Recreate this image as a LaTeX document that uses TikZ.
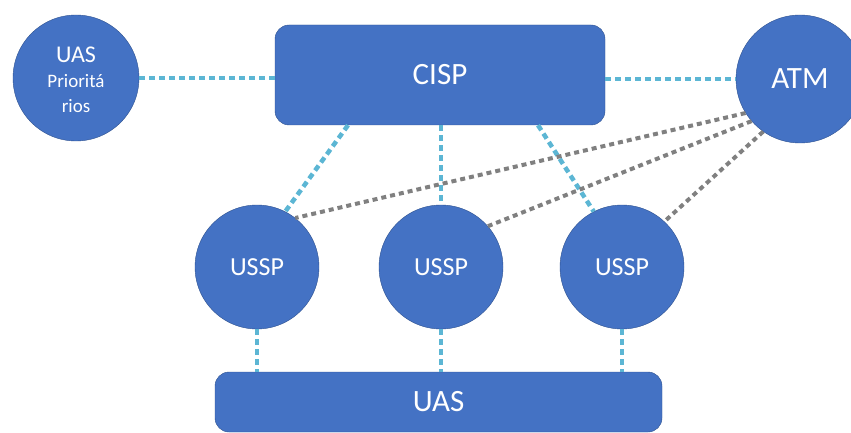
\documentclass[tikz,border=0pt]{standalone}
\usepackage{fontspec}
\setmainfont{Carlito}
\definecolor{boxblue}{RGB}{68,114,196}
\definecolor{boxedge}{RGB}{47,82,143}
\definecolor{linkcyan}{RGB}{92,182,212}
\definecolor{linkgray}{RGB}{128,128,128}
\tikzset{
  disc/.style={circle, fill=boxblue, draw=boxedge, thin, minimum size=124pt,
    inner sep=0pt, text=white, align=center},
  panel/.style={rectangle, rounded corners=14pt, fill=boxblue, draw=boxedge,
    thin, text=white},
  cyanlink/.style={linkcyan, line width=4.5pt, dash pattern=on 6pt off 4pt},
  graylink/.style={linkgray, line width=4pt, dash pattern=on 5pt off 4pt}
}
\begin{document}
\begin{tikzpicture}[x=1pt,y=-1pt]
  \useasboundingbox (0,0) rectangle (851,433);

  % nodes
  \node[disc, minimum size=126pt, font=\fontsize{19}{25}\selectfont] (prio) at (76,78)
    {\\[-6pt]{\fontsize{24}{25}\selectfont UAS}\\Prioritá\\rios};
  \node[panel, minimum width=330pt, minimum height=100pt,
    font=\fontsize{31}{32}\selectfont] (cisp) at (440,75) {CISP};
  \node[disc, minimum size=128pt, font=\fontsize{31}{32}\selectfont] (atm) at (800,79) {ATM};
  \node[disc, font=\fontsize{26}{27}\selectfont] (ussp1) at (257,267) {USSP};
  \node[disc, font=\fontsize{26}{27}\selectfont] (ussp2) at (441,267) {USSP};
  \node[disc, font=\fontsize{26}{27}\selectfont] (ussp3) at (622,267) {USSP};
  \node[panel, minimum width=447pt, minimum height=60pt,
    font=\fontsize{31}{32}\selectfont] (uas) at (438.5,402) {UAS};

  % links to CISP
  \draw[cyanlink] (prio) -- (prio -| cisp.west);
  \draw[cyanlink] (cisp.east |- atm) -- (atm);
  \draw[cyanlink] ([xshift=-92pt]cisp.south) -- (ussp1.63);
  \draw[cyanlink] (cisp.south -| ussp2) -- (ussp2);
  \draw[cyanlink] ([xshift=98pt]cisp.south) -- (ussp3.117);

  % links to ATM
  \draw[graylink] (atm.212) -- (ussp1.52);
  \draw[graylink] (atm.221) -- (ussp2.41);
  \draw[graylink] (atm.235) -- (ussp3.47);

  % links to UAS
  \foreach \s in {ussp1,ussp2,ussp3}
    \draw[cyanlink] (\s) -- (\s |- uas.north);
\end{tikzpicture}
\end{document}
